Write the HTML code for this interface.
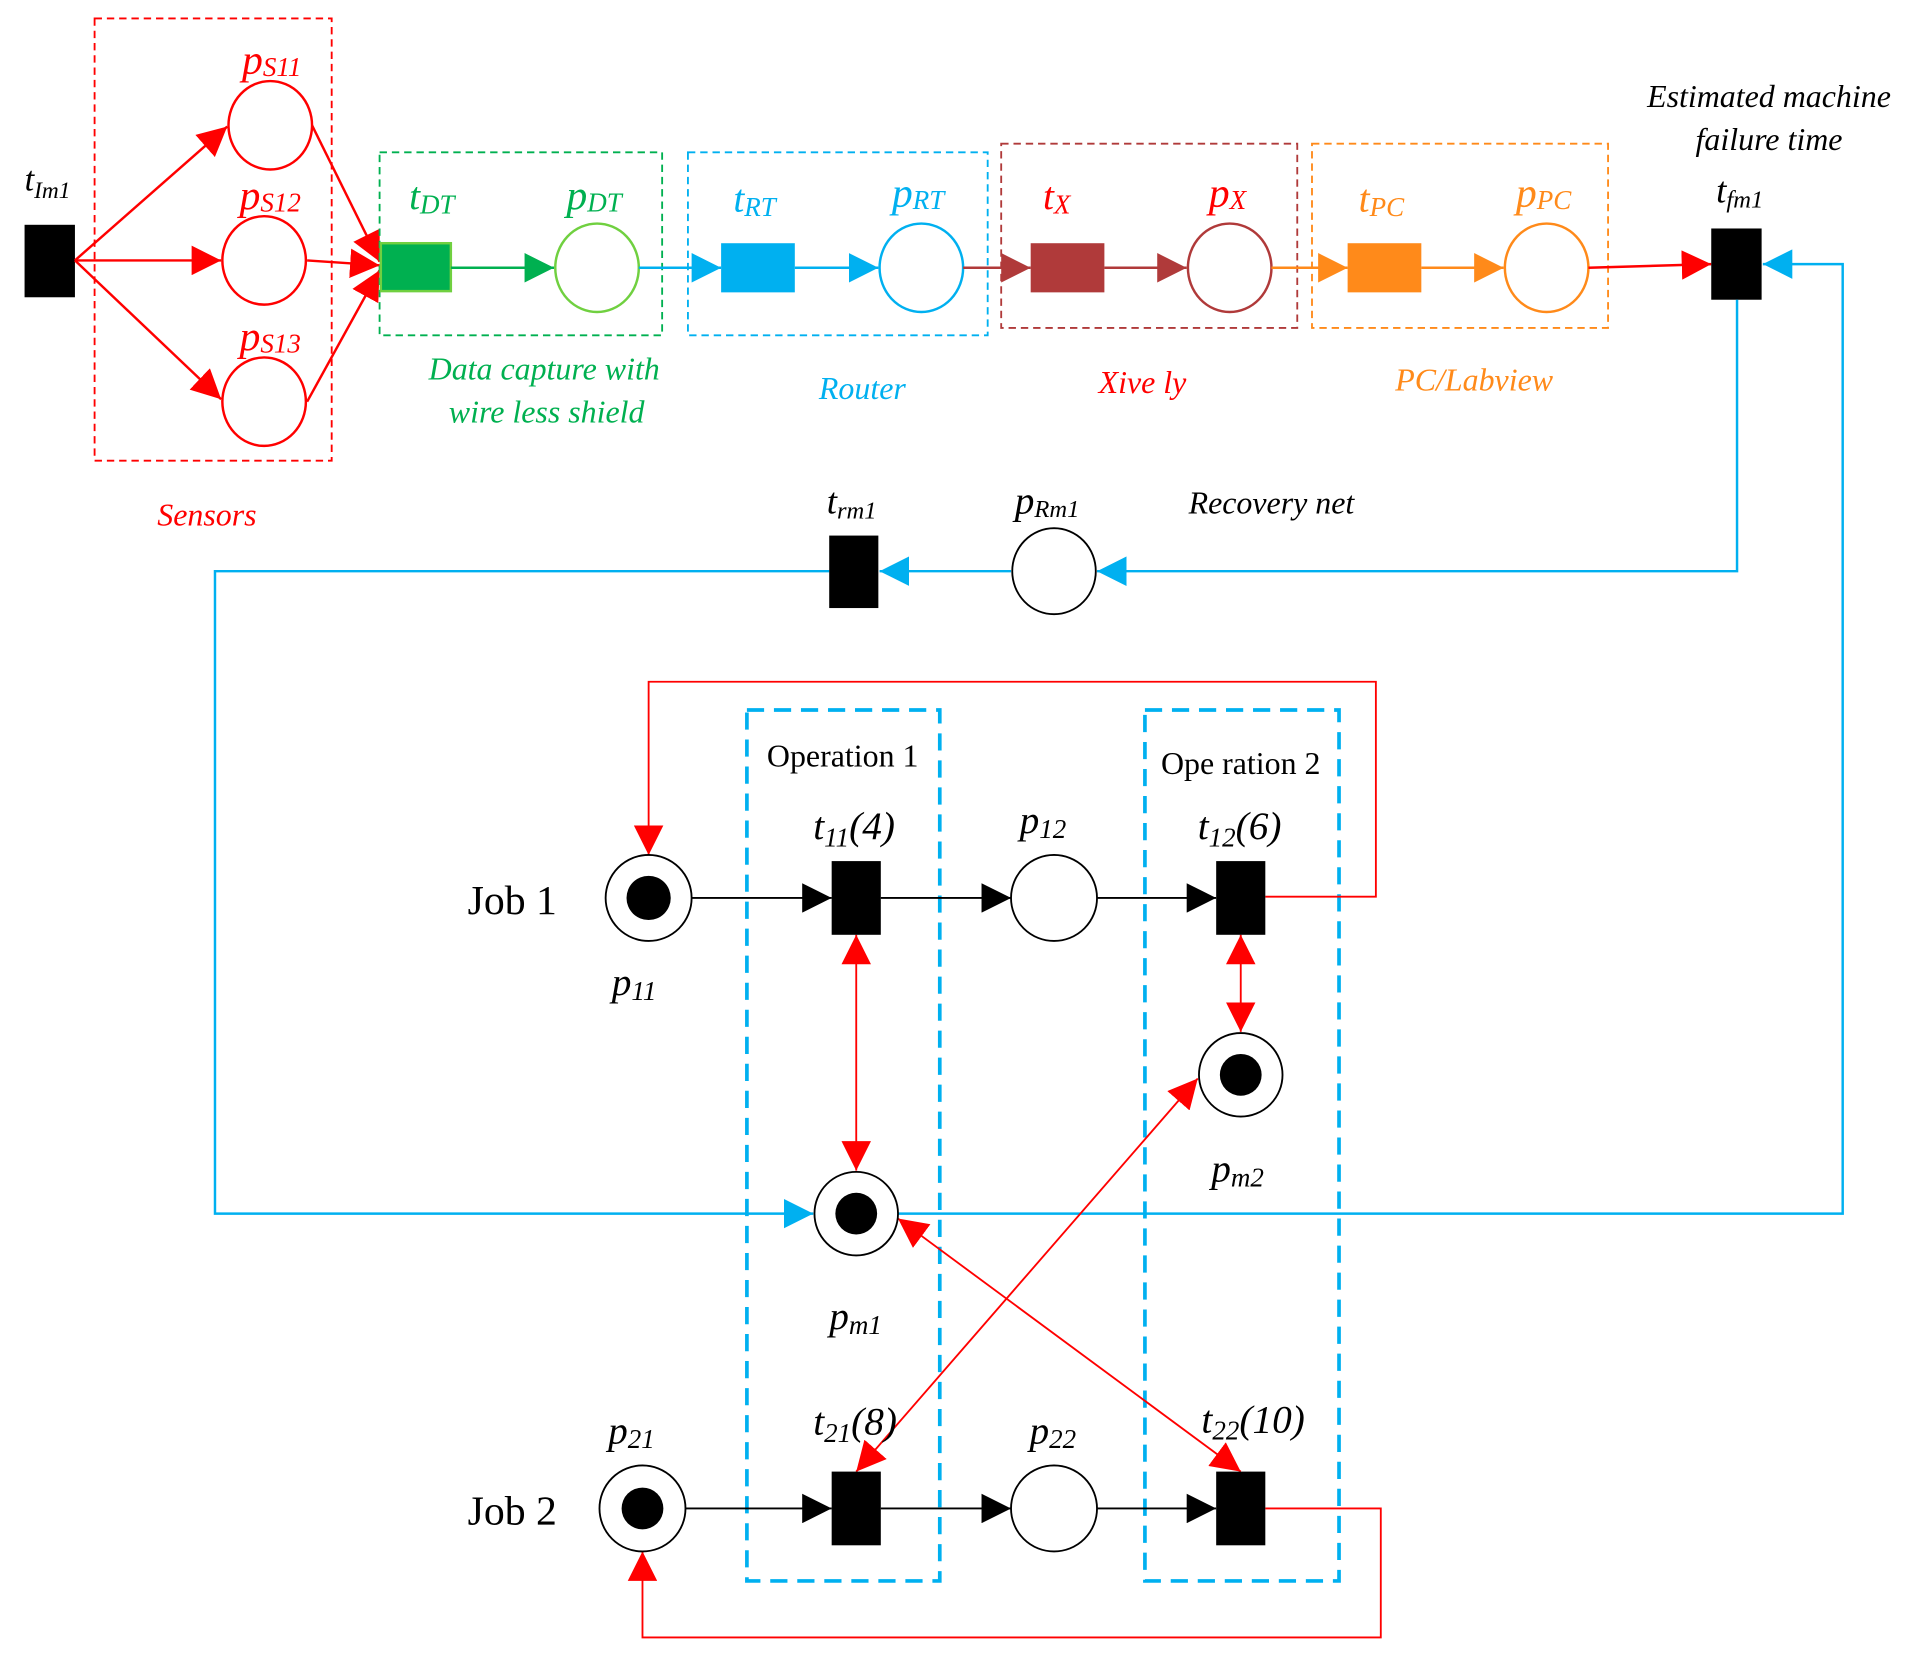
<!DOCTYPE html>
<html><head><meta charset="utf-8"><style>
html,body{margin:0;padding:0;background:#fff}
svg{display:block}
text{font-family:"Liberation Serif",serif;font-style:italic}
</style></head><body>
<svg width="1925" height="1662" viewBox="0 0 1567 1353" preserveAspectRatio="none" xmlns="http://www.w3.org/2000/svg">
<defs>
<marker id="ar2" viewBox="0 0 10 10" refX="10" refY="5" markerWidth="24" markerHeight="24" markerUnits="userSpaceOnUse" orient="auto-start-reverse"><path d="M0,0L10,5L0,10z" fill="#f00"/></marker>
<marker id="ab" viewBox="0 0 10 10" refX="10" refY="5" markerWidth="24" markerHeight="24" markerUnits="userSpaceOnUse" orient="auto"><path d="M0,0L10,5L0,10z" fill="#00b0f0"/></marker>
<marker id="ag" viewBox="0 0 10 10" refX="10" refY="5" markerWidth="24" markerHeight="24" markerUnits="userSpaceOnUse" orient="auto"><path d="M0,0L10,5L0,10z" fill="#00b050"/></marker>
<marker id="ad" viewBox="0 0 10 10" refX="10" refY="5" markerWidth="24" markerHeight="24" markerUnits="userSpaceOnUse" orient="auto"><path d="M0,0L10,5L0,10z" fill="#b03a3a"/></marker>
<marker id="ao" viewBox="0 0 10 10" refX="10" refY="5" markerWidth="24" markerHeight="24" markerUnits="userSpaceOnUse" orient="auto"><path d="M0,0L10,5L0,10z" fill="#ff8a1a"/></marker>
<marker id="ak" viewBox="0 0 10 10" refX="10" refY="5" markerWidth="24" markerHeight="24" markerUnits="userSpaceOnUse" orient="auto"><path d="M0,0L10,5L0,10z" fill="#000"/></marker>
</defs>

<rect x="77" y="15" width="193" height="360" fill="none" stroke="#f00" stroke-width="1.5" stroke-dasharray="6,4"/>
<rect x="20" y="183" width="41" height="59" fill="#000"/>
<text x="20" y="155" font-size="28">t<tspan font-size="19" dy="6">Im1</tspan></text>
<g fill="none" stroke="#f00" stroke-width="2">
<line x1="61" y1="212" x2="185" y2="103" marker-end="url(#ar2)"/>
<line x1="61" y1="212" x2="180" y2="212" marker-end="url(#ar2)"/>
<line x1="61" y1="212" x2="180" y2="325" marker-end="url(#ar2)"/>
<line x1="254" y1="102" x2="309" y2="213" marker-end="url(#ar2)"/>
<line x1="250" y1="212" x2="309" y2="216" marker-end="url(#ar2)"/>
<line x1="250" y1="327" x2="309" y2="220" marker-end="url(#ar2)"/>
<ellipse cx="220" cy="102" rx="34" ry="36"/>
<ellipse cx="215" cy="212" rx="34" ry="36"/>
<ellipse cx="215" cy="327" rx="34" ry="36"/>
</g>
<g fill="#f00" font-size="34">
<text x="197" y="60">p<tspan font-size="22" dy="2">S11</tspan></text>
<text x="195" y="170">p<tspan font-size="22" dy="2">S12</tspan></text>
<text x="195" y="285">p<tspan font-size="22" dy="2">S13</tspan></text>
<text x="128" y="428" font-size="26">Sensors</text>
</g>

<rect x="309" y="124" width="230" height="149" fill="none" stroke="#00b050" stroke-width="1.5" stroke-dasharray="6,4"/>
<rect x="310" y="198" width="57" height="39" fill="#00b050" stroke="#70d040" stroke-width="2"/>
<line x1="367" y1="218" x2="451" y2="218" stroke="#00b050" stroke-width="2" marker-end="url(#ag)"/>
<ellipse cx="486" cy="218" rx="34" ry="36" fill="none" stroke="#70d040" stroke-width="2"/>
<text x="333" y="170" fill="#00b050" font-size="32">t<tspan font-size="22" dy="4">DT</tspan></text>
<text x="461" y="170" fill="#00b050" font-size="34">p<tspan font-size="22" dy="2">DT</tspan></text>
<text x="443" y="309" fill="#00b050" font-size="26" text-anchor="middle">Data capture with</text>
<text x="445" y="344" fill="#00b050" font-size="26" text-anchor="middle">wire less shield</text>

<rect x="560" y="124" width="244" height="149" fill="none" stroke="#00b0f0" stroke-width="1.5" stroke-dasharray="6,4"/>
<line x1="520" y1="218" x2="587" y2="218" stroke="#00b0f0" stroke-width="2" marker-end="url(#ab)"/>
<rect x="587" y="198" width="60" height="40" fill="#00b0f0"/>
<line x1="647" y1="218" x2="715" y2="218" stroke="#00b0f0" stroke-width="2" marker-end="url(#ab)"/>
<ellipse cx="750" cy="218" rx="34" ry="36" fill="none" stroke="#00b0f0" stroke-width="2"/>
<text x="597" y="172" fill="#00b0f0" font-size="32">t<tspan font-size="22" dy="4">RT</tspan></text>
<text x="726" y="168" fill="#00b0f0" font-size="34">p<tspan font-size="22" dy="2">RT</tspan></text>
<text x="702" y="325" fill="#00b0f0" font-size="26" text-anchor="middle">Router</text>

<rect x="815" y="117" width="241" height="150" fill="none" stroke="#b03a3a" stroke-width="1.5" stroke-dasharray="6,4"/>
<line x1="784" y1="218" x2="839" y2="218" stroke="#b03a3a" stroke-width="2" marker-end="url(#ad)"/>
<rect x="839" y="198" width="60" height="40" fill="#b03a3a"/>
<line x1="899" y1="218" x2="966" y2="218" stroke="#b03a3a" stroke-width="2" marker-end="url(#ad)"/>
<ellipse cx="1001" cy="218" rx="34" ry="36" fill="none" stroke="#b03a3a" stroke-width="2"/>
<text x="849" y="170" fill="#f00" font-size="32">t<tspan font-size="22" dy="4">X</tspan></text>
<text x="984" y="168" fill="#f00" font-size="34">p<tspan font-size="22" dy="2">X</tspan></text>
<text x="930" y="320" fill="#f00" font-size="26" text-anchor="middle">Xive ly</text>

<rect x="1068" y="117" width="241" height="150" fill="none" stroke="#ff8a1a" stroke-width="1.5" stroke-dasharray="6,4"/>
<line x1="1035" y1="218" x2="1097" y2="218" stroke="#ff8a1a" stroke-width="2" marker-end="url(#ao)"/>
<rect x="1097" y="198" width="60" height="40" fill="#ff8a1a"/>
<line x1="1157" y1="218" x2="1224" y2="218" stroke="#ff8a1a" stroke-width="2" marker-end="url(#ao)"/>
<ellipse cx="1259" cy="218" rx="34" ry="36" fill="none" stroke="#ff8a1a" stroke-width="2"/>
<text x="1106" y="172" fill="#ff8a1a" font-size="32">t<tspan font-size="22" dy="4">PC</tspan></text>
<text x="1234" y="168" fill="#ff8a1a" font-size="34">p<tspan font-size="22" dy="2">PC</tspan></text>
<text x="1200" y="318" fill="#ff8a1a" font-size="26" text-anchor="middle">PC/Labview</text>

<line x1="1293" y1="218" x2="1393" y2="215" stroke="#f00" stroke-width="2" marker-end="url(#ar2)"/>
<rect x="1393" y="186" width="41" height="58" fill="#000"/>
<text x="1440" y="87" font-size="26" text-anchor="middle">Estimated machine</text>
<text x="1440" y="122" font-size="26" text-anchor="middle">failure time</text>
<text x="1397" y="165" font-size="30">t<tspan font-size="20" dy="4">fm1</tspan></text>

<g fill="none" stroke="#00b0f0" stroke-width="2">
<polyline points="1414,244 1414,465 893,465" marker-end="url(#ab)"/>
<line x1="823" y1="465" x2="716" y2="465" marker-end="url(#ab)"/>
<polyline points="675,465 175,465 175,988 662,988" marker-end="url(#ab)"/>
<polyline points="731,988 1500,988 1500,215 1435,215" marker-end="url(#ab)"/>
</g>
<ellipse cx="858" cy="465" rx="34" ry="35" fill="#fff" stroke="#000" stroke-width="1.5"/>
<rect x="675" y="436" width="40" height="59" fill="#000"/>
<text x="673" y="418" font-size="30">t<tspan font-size="20" dy="4">rm1</tspan></text>
<text x="826" y="418" font-size="32">p<tspan font-size="20" dy="3">Rm1</tspan></text>
<text x="1035" y="418" font-size="26" text-anchor="middle">Recovery net</text>

<rect x="608" y="578" width="157" height="709" fill="none" stroke="#00b0f0" stroke-width="3" stroke-dasharray="14,8"/>
<rect x="932" y="578" width="158" height="709" fill="none" stroke="#00b0f0" stroke-width="3" stroke-dasharray="14,8"/>
<text x="686" y="624" font-size="26" text-anchor="middle" style="font-style:normal">Operation 1</text>
<text x="1010" y="630" font-size="26" text-anchor="middle" style="font-style:normal">Ope ration 2</text>

<g fill="none" stroke="#f00" stroke-width="1.5">
<polyline points="1030,730 1120,730 1120,555 528,555 528,696" marker-end="url(#ar2)"/>
<polyline points="1030,1228 1124,1228 1124,1333 523,1333 523,1263" marker-end="url(#ar2)"/>
<line x1="697" y1="761" x2="697" y2="953" marker-start="url(#ar2)" marker-end="url(#ar2)"/>
<line x1="1010" y1="761" x2="1010" y2="840" marker-start="url(#ar2)" marker-end="url(#ar2)"/>
<line x1="975" y1="878" x2="697" y2="1198" marker-start="url(#ar2)" marker-end="url(#ar2)"/>
<line x1="731" y1="992" x2="1010" y2="1198" marker-start="url(#ar2)" marker-end="url(#ar2)"/>
</g>

<g stroke="#000" stroke-width="1.5" fill="none">
<line x1="563" y1="731" x2="677" y2="731" marker-end="url(#ak)"/>
<line x1="717" y1="731" x2="823" y2="731" marker-end="url(#ak)"/>
<line x1="893" y1="731" x2="990" y2="731" marker-end="url(#ak)"/>
<line x1="558" y1="1228" x2="677" y2="1228" marker-end="url(#ak)"/>
<line x1="717" y1="1228" x2="823" y2="1228" marker-end="url(#ak)"/>
<line x1="893" y1="1228" x2="990" y2="1228" marker-end="url(#ak)"/>
</g>
<g stroke="#000" stroke-width="1.5" fill="#fff">
<circle cx="528" cy="731" r="35"/>
<circle cx="858" cy="731" r="35"/>
<circle cx="1010" cy="875" r="34"/>
<circle cx="697" cy="988" r="34"/>
<circle cx="523" cy="1228" r="35"/>
<circle cx="858" cy="1228" r="35"/>
</g>
<g fill="#000">
<circle cx="528" cy="731" r="18"/>
<circle cx="1010" cy="875" r="17"/>
<circle cx="697" cy="988" r="17"/>
<circle cx="523" cy="1228" r="17"/>
<rect x="677" y="701" width="40" height="60"/>
<rect x="990" y="701" width="40" height="60"/>
<rect x="677" y="1198" width="40" height="60"/>
<rect x="990" y="1198" width="40" height="60"/>
</g>
<g font-size="32">
<text x="417" y="744" text-anchor="middle" style="font-style:normal" font-size="34">Job 1</text>
<text x="417" y="1241" text-anchor="middle" style="font-style:normal" font-size="34">Job 2</text>
<text x="498" y="810">p<tspan font-size="22" dy="4">11</tspan></text>
<text x="662" y="683">t<tspan font-size="22" dy="6">11</tspan><tspan dy="-6">(4)</tspan></text>
<text x="830" y="678">p<tspan font-size="22" dy="4">12</tspan></text>
<text x="975" y="683">t<tspan font-size="22" dy="6">12</tspan><tspan dy="-6">(6)</tspan></text>
<text x="986" y="962">p<tspan font-size="22" dy="4">m2</tspan></text>
<text x="675" y="1082">p<tspan font-size="22" dy="4">m1</tspan></text>
<text x="495" y="1175">p<tspan font-size="22" dy="4">21</tspan></text>
<text x="662" y="1168">t<tspan font-size="22" dy="6">21</tspan><tspan dy="-6">(8)</tspan></text>
<text x="838" y="1175">p<tspan font-size="22" dy="4">22</tspan></text>
<text x="978" y="1166">t<tspan font-size="22" dy="6">22</tspan><tspan dy="-6">(10)</tspan></text>
</g>
</svg>
</body></html>
